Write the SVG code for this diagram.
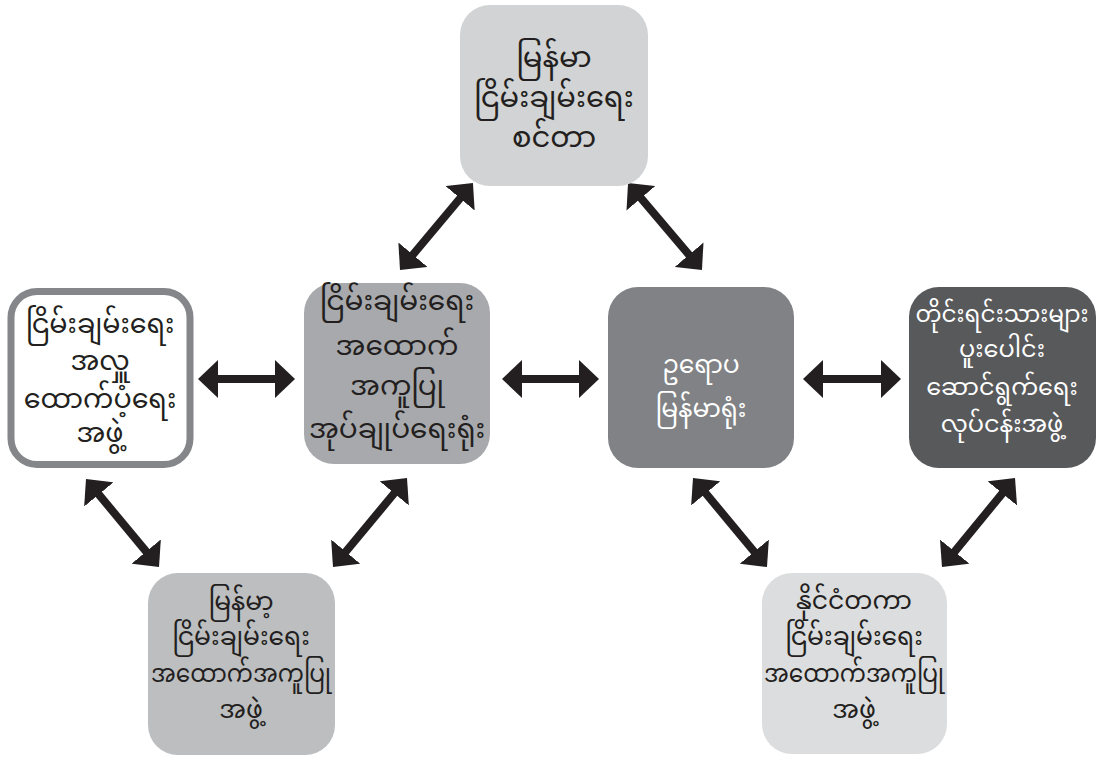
<svg xmlns="http://www.w3.org/2000/svg" width="1104" height="758" viewBox="0 0 1104 758">
<style>
text{font-family:"Noto Sans Myanmar","Padauk","Myanmar Text","Noto Sans",sans-serif;font-size:26px;text-anchor:middle;fill:#231f20}
.w{fill:#ffffff}
.t{font-size:29px}
.l{font-size:27px}
.cl{font-size:28px}
.cr{font-size:25px}
.r{font-size:24px}
.b{font-size:25px}
.c{stroke:#231f20;stroke-width:8;fill:none;marker-start:url(#ah);marker-end:url(#ah)}
</style>
<defs>
<marker id="ah" markerUnits="userSpaceOnUse" viewBox="0 0 20 38" refX="2" refY="19" markerWidth="20" markerHeight="38" orient="auto-start-reverse">
<path d="M0,0 L20,19 L0,38 z" fill="#231f20"/>
</marker>
</defs>
<rect width="1104" height="758" fill="#ffffff"/>
<g id="connectors">
<line class="c" x1="461.4" y1="196.8" x2="411.6" y2="256.2"/>
<line class="c" x1="639.7" y1="196.7" x2="690.3" y2="256.3"/>
<line class="c" x1="216" y1="379" x2="277" y2="379"/>
<line class="c" x1="520" y1="379" x2="581" y2="379"/>
<line class="c" x1="821" y1="379" x2="883" y2="379"/>
<line class="c" x1="97.5" y1="492.9" x2="147.5" y2="553.1"/>
<line class="c" x1="395.5" y1="491.8" x2="344.5" y2="553.2"/>
<line class="c" x1="704.5" y1="491.8" x2="755.5" y2="553.2"/>
<line class="c" x1="1003.6" y1="491.9" x2="953.4" y2="553.1"/>
</g>
<g id="node-top">
<rect x="460" y="5" width="188" height="181" rx="30" fill="#d1d3d4"/>
<text class="t" x="554" y="67">မြန်မာ</text>
<text class="t" x="554" y="107">ငြိမ်းချမ်းရေး</text>
<text class="t" x="554" y="147">စင်တာ</text>
</g>
<g id="node-left">
<rect x="11" y="291.5" width="179" height="173" rx="26" fill="#ffffff" stroke="#848689" stroke-width="7"/>
<text class="l" x="100" y="333">ငြိမ်းချမ်းရေး</text>
<text class="l" x="100" y="370">အလှူ</text>
<text class="l" x="100" y="408">ထောက်ပံ့ရေး</text>
<text class="l" x="100" y="442">အဖွဲ့</text>
</g>
<g id="node-center-left">
<rect x="304" y="283" width="186" height="181" rx="30" fill="#a7a9ac"/>
<text class="cl" x="397" y="310">ငြိမ်းချမ်းရေး</text>
<text class="cl" x="397" y="355">အထောက်</text>
<text class="cl" x="397" y="395">အကူပြု</text>
<text class="cl" x="397" y="438">အုပ်ချုပ်ရေးရုံး</text>
</g>
<g id="node-center-right">
<rect x="608" y="287" width="186" height="181" rx="30" fill="#808285"/>
<text class="w cr" x="701" y="373">ဥရောပ</text>
<text class="w cr" x="701" y="417">မြန်မာရုံး</text>
</g>
<g id="node-right">
<rect x="909" y="287" width="187" height="181" rx="30" fill="#58595b"/>
<text class="w r" x="1002" y="322" textLength="173" lengthAdjust="spacingAndGlyphs">တိုင်းရင်းသားများ</text>
<text class="w r" x="1002" y="357">ပူးပေါင်း</text>
<text class="w r" x="1002" y="395">ဆောင်ရွက်ရေး</text>
<text class="w r" x="1002" y="432">လုပ်ငန်းအဖွဲ့</text>
</g>
<g id="node-bottom-left">
<rect x="148" y="573" width="187" height="182" rx="30" fill="#bcbec0"/>
<text class="b" x="241" y="610">မြန်မာ့</text>
<text class="b" x="241" y="645">ငြိမ်းချမ်းရေး</text>
<text class="b" x="241" y="682" textLength="180" lengthAdjust="spacingAndGlyphs">အထောက်အကူပြု</text>
<text class="b" x="241" y="718">အဖွဲ့</text>
</g>
<g id="node-bottom-right">
<rect x="762" y="573" width="185" height="181" rx="30" fill="#dcddde"/>
<text class="b" x="854" y="609">နိုင်ငံတကာ</text>
<text class="b" x="854" y="645">ငြိမ်းချမ်းရေး</text>
<text class="b" x="854" y="682" textLength="180" lengthAdjust="spacingAndGlyphs">အထောက်အကူပြု</text>
<text class="b" x="854" y="718">အဖွဲ့</text>
</g>
</svg>
